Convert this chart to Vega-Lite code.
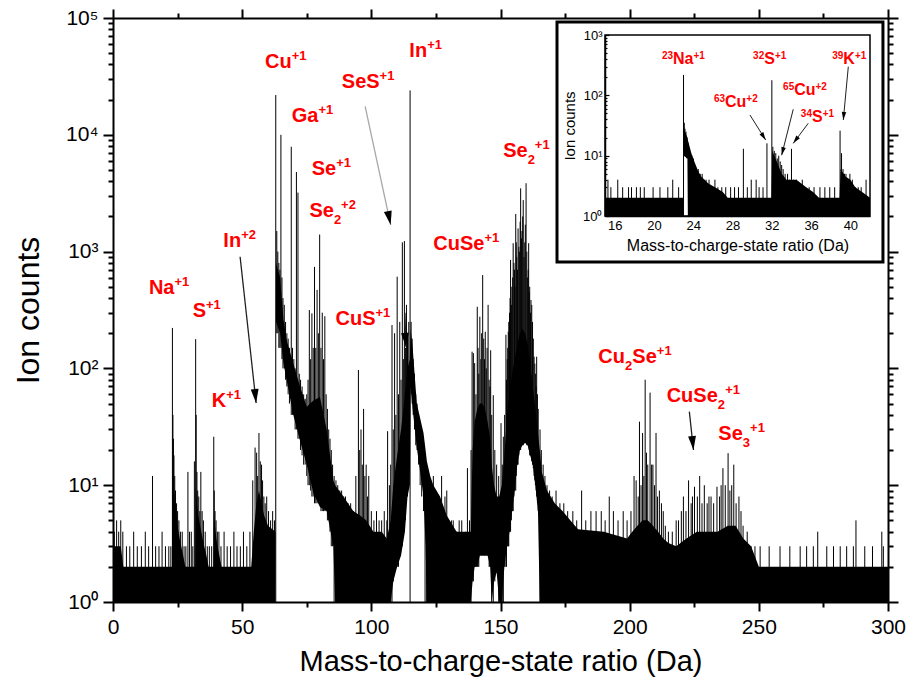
{
"$schema": "https://vega.github.io/schema/vega-lite/v6.json",
"width": 775, "height": 584,
"autosize": {"type": "none"},
"padding": {"left": 113, "top": 18, "right": 19, "bottom": 85},
"background": "white",
"config": {
  "view": {"stroke": null},
  "axis": {"grid": false, "domainColor": "black", "tickColor": "black", "labelColor": "black", "titleColor": "black", "labelFont": "Liberation Sans", "titleFont": "Liberation Sans", "titleFontWeight": "normal", "domainWidth": 2, "tickWidth": 2, "labelFlush": false, "labelOverlap": false, "labelBound": false, "zindex": 1},
  "text": {"font": "Liberation Sans"}
},
"datasets": {
"band": [
{"m":0,"lo":1,"hi":3},{"m":3,"lo":1,"hi":3},{"m":4,"lo":1,"hi":2},{"m":22.9,"lo":1,"hi":2},{"m":23.05,"lo":1,"hi":14},{"m":23.5,"lo":1,"hi":10},{"m":24,"lo":1,"hi":7},{"m":25,"lo":1,"hi":4.5},{"m":26,"lo":1,"hi":3.3},{"m":27,"lo":1,"hi":2.6},{"m":28,"lo":1,"hi":2},{"m":31.9,"lo":1,"hi":2},{"m":32.05,"lo":1,"hi":10},{"m":32.5,"lo":1,"hi":7},{"m":33,"lo":1,"hi":5.5},{"m":34,"lo":1,"hi":4.2},{"m":35,"lo":1,"hi":3.2},{"m":36,"lo":1,"hi":2.6},{"m":37,"lo":1,"hi":2},{"m":38.9,"lo":1,"hi":2},{"m":39.05,"lo":1,"hi":5.5},{"m":40,"lo":1,"hi":3.5},{"m":41,"lo":1,"hi":2.6},{"m":42,"lo":1,"hi":2},{"m":53.5,"lo":1,"hi":2},{"m":54.5,"lo":1,"hi":4},{"m":55.5,"lo":1,"hi":7},{"m":56.5,"lo":1,"hi":9},{"m":57.5,"lo":1,"hi":7},{"m":58.5,"lo":1,"hi":5.5},{"m":60,"lo":1,"hi":4.5},{"m":62.9,"lo":1,"hi":4},
{"m":63.1,"lo":250,"hi":800},{"m":64.7,"lo":200,"hi":600},{"m":66,"lo":110,"hi":260},{"m":67.2,"lo":80,"hi":175},{"m":69.8,"lo":40,"hi":110},{"m":72.4,"lo":24,"hi":70},{"m":75,"lo":15,"hi":47},{"m":77.6,"lo":8.5,"hi":53},{"m":80.1,"lo":6.5,"hi":57},{"m":82.7,"lo":6,"hi":30},{"m":85.3,"lo":3,"hi":11},{"m":86,"lo":1,"hi":10},{"m":89.2,"lo":1,"hi":8},{"m":93,"lo":1,"hi":6},{"m":95.6,"lo":1,"hi":5.5},{"m":98,"lo":1,"hi":5},{"m":100.8,"lo":1,"hi":4},{"m":104,"lo":1,"hi":4},{"m":106,"lo":1,"hi":3.5},{"m":107.5,"lo":1,"hi":5},{"m":108.5,"lo":1.5,"hi":10},{"m":110,"lo":2,"hi":18},{"m":111.5,"lo":2.5,"hi":30},{"m":113,"lo":4,"hi":60},{"m":114,"lo":8,"hi":100},{"m":114.9,"lo":10,"hi":120},{"m":115.2,"lo":70,"hi":220},{"m":116,"lo":45,"hi":150},{"m":117.6,"lo":21,"hi":50},{"m":120.2,"lo":8,"hi":28},{"m":121,"lo":3,"hi":20},{"m":121.5,"lo":1,"hi":16},{"m":122.8,"lo":1,"hi":12},{"m":124,"lo":1,"hi":10},{"m":126.6,"lo":1,"hi":8},{"m":129.2,"lo":1,"hi":5.5},{"m":133,"lo":1,"hi":4},{"m":138.5,"lo":1,"hi":4},
{"m":139.2,"lo":1.5,"hi":20},{"m":140,"lo":2,"hi":35},{"m":141,"lo":2,"hi":45},{"m":142,"lo":2.5,"hi":50},{"m":143,"lo":2.5,"hi":50},{"m":144,"lo":2.5,"hi":45},{"m":145,"lo":2.5,"hi":35},{"m":146,"lo":2,"hi":25},{"m":146.6,"lo":1,"hi":15},{"m":147.5,"lo":1.5,"hi":10},{"m":148.5,"lo":1.8,"hi":8},{"m":149.5,"lo":1,"hi":8},{"m":150.5,"lo":1,"hi":10},{"m":151.5,"lo":2,"hi":18},{"m":152.5,"lo":3,"hi":40},{"m":153.5,"lo":4,"hi":60},{"m":154.5,"lo":6,"hi":90},{"m":155.5,"lo":9,"hi":120},{"m":156.5,"lo":15,"hi":160},{"m":157.5,"lo":20,"hi":200},{"m":158.5,"lo":22,"hi":220},{"m":159.5,"lo":23,"hi":200},{"m":160.5,"lo":22,"hi":160},{"m":161.5,"lo":18,"hi":110},{"m":162.5,"lo":15,"hi":70},{"m":163.5,"lo":10,"hi":45},{"m":164.5,"lo":6,"hi":28},{"m":165.2,"lo":1,"hi":20},{"m":166,"lo":1,"hi":13},{"m":168,"lo":1,"hi":9},{"m":171,"lo":1,"hi":7},{"m":174,"lo":1,"hi":6},{"m":177,"lo":1,"hi":5},{"m":180,"lo":1,"hi":4.2},{"m":190,"lo":1,"hi":4},{"m":199,"lo":1,"hi":3.5},{"m":201,"lo":1,"hi":4},{"m":203,"lo":1,"hi":4.5},{"m":205,"lo":1,"hi":5},{"m":207,"lo":1,"hi":5},{"m":209,"lo":1,"hi":4.5},{"m":211,"lo":1,"hi":4},{"m":213,"lo":1,"hi":3.5},{"m":215,"lo":1,"hi":3.2},{"m":218,"lo":1,"hi":3},{"m":222,"lo":1,"hi":3.5},{"m":226,"lo":1,"hi":4},{"m":230,"lo":1,"hi":4},{"m":234,"lo":1,"hi":4},{"m":238,"lo":1,"hi":4.5},{"m":241,"lo":1,"hi":4.5},{"m":244,"lo":1,"hi":3.5},{"m":247,"lo":1,"hi":3},{"m":250,"lo":1,"hi":2},{"m":300,"lo":1,"hi":2}
],
"spk": [
{"m":0.5,"c":4,"b":1},{"m":1.4,"c":5,"b":1},{"m":2.2,"c":4,"b":1},{"m":3.0,"c":5,"b":1},{"m":3.8,"c":4,"b":1},{"m":5.2,"c":3,"b":1},{"m":6.5,"c":3,"b":1},{"m":8.0,"c":4,"b":1},{"m":9.4,"c":3,"b":1},{"m":11.0,"c":3,"b":1},{"m":12.5,"c":4,"b":1},{"m":13.8,"c":3,"b":1},{"m":15.3,"c":12,"b":1},{"m":16.5,"c":3,"b":1},{"m":17.8,"c":3,"b":1},{"m":19.0,"c":4,"b":1},{"m":20.3,"c":3,"b":1},{"m":21.6,"c":3,"b":1},{"m":22.4,"c":3,"b":1},
{"m":23.0,"c":222,"b":1},{"m":23.2,"c":40,"b":1},{"m":23.4,"c":25,"b":1},{"m":23.6,"c":18,"b":1},{"m":23.9,"c":12,"b":1},{"m":24.2,"c":9,"b":1},{"m":24.6,"c":7,"b":1},{"m":25.0,"c":6,"b":1},{"m":25.5,"c":5,"b":1},{"m":26.1,"c":4,"b":1},{"m":26.8,"c":4,"b":1},{"m":27.5,"c":3,"b":1},{"m":28.2,"c":3,"b":1},{"m":29.0,"c":13,"b":1},{"m":29.6,"c":4,"b":1},{"m":30.3,"c":4,"b":1},{"m":30.9,"c":3,"b":1},{"m":31.5,"c":16,"b":1},{"m":32.0,"c":178,"b":1},{"m":32.2,"c":40,"b":1},{"m":32.5,"c":13,"b":1},{"m":32.8,"c":9,"b":1},{"m":33.2,"c":8,"b":1},{"m":33.6,"c":6,"b":1},{"m":34.0,"c":13,"b":1},{"m":34.5,"c":6,"b":1},{"m":35.0,"c":5,"b":1},{"m":35.7,"c":4,"b":1},{"m":36.5,"c":3,"b":1},{"m":37.3,"c":3,"b":1},{"m":38.2,"c":3,"b":1},{"m":39.0,"c":26,"b":1},{"m":39.2,"c":9,"b":1},{"m":39.5,"c":6,"b":1},{"m":39.9,"c":5,"b":1},{"m":40.4,"c":4,"b":1},{"m":41.0,"c":4,"b":1},{"m":41.8,"c":3,"b":1},{"m":43.0,"c":4,"b":1},{"m":44.2,"c":3,"b":1},{"m":45.5,"c":3,"b":1},{"m":46.8,"c":4,"b":1},{"m":48.0,"c":3,"b":1},{"m":49.3,"c":3,"b":1},{"m":50.5,"c":4,"b":1},{"m":51.8,"c":3,"b":1},{"m":53.0,"c":4,"b":1},{"m":54.1,"c":11,"b":1},{"m":55.0,"c":21,"b":1},{"m":55.6,"c":19,"b":1},{"m":56.0,"c":12,"b":1},{"m":56.5,"c":28,"b":1},{"m":57.0,"c":16,"b":1},{"m":57.5,"c":15,"b":1},{"m":57.9,"c":11,"b":1},{"m":58.4,"c":8,"b":1},{"m":58.9,"c":7,"b":1},{"m":59.5,"c":8,"b":1},{"m":60.2,"c":6,"b":1},{"m":61.0,"c":5,"b":1},{"m":61.8,"c":6,"b":1},{"m":62.5,"c":5,"b":1},
{"m":63.0,"c":21900,"b":1},{"m":63.4,"c":1500,"b":200},{"m":63.8,"c":1000,"b":200},{"m":64.2,"c":800,"b":150},{"m":64.6,"c":700,"b":150},{"m":65.0,"c":10000,"b":150},{"m":65.4,"c":600,"b":120},{"m":65.8,"c":400,"b":100},{"m":66.3,"c":350,"b":100},{"m":66.8,"c":250,"b":80},{"m":67.3,"c":200,"b":70},{"m":67.8,"c":180,"b":60},{"m":68.3,"c":150,"b":50},{"m":69.0,"c":7900,"b":40},{"m":69.5,"c":150,"b":40},{"m":70.0,"c":120,"b":40},{"m":70.5,"c":100,"b":30},{"m":71.0,"c":4800,"b":30},{"m":71.6,"c":3200,"b":25},{"m":72.1,"c":90,"b":25},{"m":72.6,"c":80,"b":20},{"m":73.2,"c":70,"b":18},{"m":73.8,"c":60,"b":15},{"m":74.4,"c":55,"b":15},{"m":75.0,"c":60,"b":12},{"m":75.5,"c":80,"b":10},{"m":76.0,"c":316,"b":10},{"m":76.5,"c":120,"b":9},{"m":77.0,"c":296,"b":8},{"m":77.5,"c":150,"b":8},{"m":78.0,"c":740,"b":7},{"m":78.5,"c":150,"b":7},{"m":79.0,"c":470,"b":7},{"m":79.5,"c":200,"b":7},{"m":80.0,"c":1400,"b":7},{"m":80.5,"c":150,"b":6},{"m":81.0,"c":300,"b":6},{"m":81.5,"c":120,"b":6},{"m":82.0,"c":280,"b":6},{"m":82.5,"c":60,"b":6},{"m":83.0,"c":45,"b":5},{"m":83.5,"c":30,"b":5},{"m":84.0,"c":25,"b":4},{"m":84.5,"c":20,"b":3},{"m":85.0,"c":15,"b":3},{"m":85.6,"c":12,"b":1},{"m":86.3,"c":11,"b":1},{"m":87.0,"c":10,"b":1},{"m":87.8,"c":9,"b":1},{"m":88.5,"c":9,"b":1},{"m":89.3,"c":8,"b":1},{"m":90.0,"c":8,"b":1},{"m":91.0,"c":7,"b":1},{"m":92.0,"c":7,"b":1},{"m":93.0,"c":6,"b":1},{"m":94.0,"c":12,"b":1},{"m":95.0,"c":97,"b":1},{"m":95.5,"c":20,"b":1},{"m":96.0,"c":30,"b":1},{"m":96.5,"c":15,"b":1},{"m":97.0,"c":45,"b":1},{"m":97.5,"c":12,"b":1},{"m":98.0,"c":15,"b":1},{"m":98.5,"c":8,"b":1},{"m":99.0,"c":12,"b":1},{"m":100.0,"c":6,"b":1},{"m":101.0,"c":5,"b":1},{"m":102.0,"c":6,"b":1},{"m":103.0,"c":5,"b":1},{"m":104.0,"c":5,"b":1},{"m":105.0,"c":6,"b":1},{"m":106.0,"c":5,"b":1},{"m":106.3,"c":29,"b":1},{"m":107.0,"c":10,"b":1},{"m":107.5,"c":15,"b":1},{"m":108.0,"c":235,"b":1},{"m":108.5,"c":30,"b":1.5},{"m":109.0,"c":200,"b":2},{"m":109.5,"c":40,"b":2},{"m":110.0,"c":610,"b":2},{"m":110.5,"c":60,"b":2},{"m":111.0,"c":250,"b":2.5},{"m":111.5,"c":80,"b":3},{"m":112.0,"c":1200,"b":3},{"m":112.4,"c":120,"b":4},{"m":112.8,"c":1230,"b":4},{"m":113.2,"c":150,"b":5},{"m":113.6,"c":350,"b":8},{"m":114.0,"c":200,"b":8},{"m":114.5,"c":250,"b":10},{"m":115.0,"c":24000,"b":1},{"m":115.4,"c":250,"b":60},{"m":115.8,"c":180,"b":50},{"m":116.2,"c":120,"b":40},{"m":116.7,"c":90,"b":30},{"m":117.2,"c":60,"b":22},{"m":117.7,"c":50,"b":20},{"m":118.3,"c":40,"b":15},{"m":118.9,"c":30,"b":10},{"m":119.5,"c":25,"b":8},{"m":120.2,"c":20,"b":6},{"m":120.8,"c":15,"b":1},{"m":121.4,"c":12,"b":1},{"m":122.0,"c":12,"b":1},{"m":122.8,"c":10,"b":1},{"m":123.5,"c":9,"b":1},{"m":124.0,"c":12,"b":1},{"m":125.0,"c":8,"b":1},{"m":126.0,"c":7,"b":1},{"m":127.2,"c":12,"b":1},{"m":128.0,"c":6,"b":1},{"m":128.5,"c":8,"b":1},{"m":129.2,"c":9,"b":1},{"m":130.0,"c":5,"b":1},{"m":131.0,"c":5,"b":1},{"m":131.7,"c":5,"b":1},{"m":133.0,"c":4,"b":1},{"m":134.0,"c":5,"b":1},{"m":135.0,"c":5,"b":1},{"m":136.5,"c":4,"b":1},{"m":137.2,"c":14,"b":1},{"m":138.0,"c":5,"b":1},
{"m":138.6,"c":20,"b":1},{"m":139.0,"c":139,"b":1.5},{"m":139.5,"c":135,"b":1.5},{"m":140.0,"c":111,"b":2},{"m":140.5,"c":60,"b":2},{"m":141.0,"c":337,"b":2},{"m":141.3,"c":150,"b":2},{"m":141.6,"c":90,"b":2},{"m":142.0,"c":277,"b":2.5},{"m":142.4,"c":120,"b":2.5},{"m":142.7,"c":200,"b":2.5},{"m":143.1,"c":630,"b":2.5},{"m":143.5,"c":180,"b":2.5},{"m":143.8,"c":120,"b":2.5},{"m":144.1,"c":206,"b":2.5},{"m":144.5,"c":100,"b":2.5},{"m":144.8,"c":150,"b":2.5},{"m":145.2,"c":350,"b":2.5},{"m":145.6,"c":80,"b":2},{"m":145.9,"c":70,"b":2},{"m":146.2,"c":143,"b":2},{"m":146.6,"c":40,"b":1},{"m":147.2,"c":59,"b":1},{"m":147.8,"c":20,"b":1.5},{"m":148.5,"c":15,"b":1.8},{"m":149.3,"c":12,"b":1},{"m":150.2,"c":34,"b":1},{"m":150.7,"c":15,"b":1},{"m":151.1,"c":26,"b":1},{"m":151.6,"c":40,"b":2},{"m":152.1,"c":194,"b":2},
{"m":152.3,"c":80,"b":2},{"m":152.6,"c":120,"b":3},{"m":152.8,"c":150,"b":3},{"m":153.0,"c":206,"b":3},{"m":153.2,"c":250,"b":3},{"m":153.5,"c":300,"b":4},{"m":153.7,"c":400,"b":4},{"m":153.9,"c":850,"b":4},{"m":154.2,"c":350,"b":5},{"m":154.4,"c":500,"b":6},{"m":154.7,"c":600,"b":6},{"m":154.9,"c":1180,"b":6},{"m":155.2,"c":800,"b":8},{"m":155.4,"c":700,"b":9},{"m":155.6,"c":500,"b":9},{"m":155.9,"c":2100,"b":9},{"m":156.1,"c":1200,"b":12},{"m":156.3,"c":900,"b":15},{"m":156.6,"c":700,"b":15},{"m":156.8,"c":1580,"b":15},{"m":157.1,"c":1100,"b":18},{"m":157.3,"c":1000,"b":20},{"m":157.6,"c":1800,"b":20},{"m":157.8,"c":3480,"b":20},{"m":158.1,"c":1300,"b":22},{"m":158.3,"c":1500,"b":22},{"m":158.6,"c":2000,"b":22},{"m":158.8,"c":2760,"b":22},{"m":159.1,"c":900,"b":23},{"m":159.4,"c":1200,"b":23},{"m":159.6,"c":1700,"b":23},{"m":159.9,"c":3850,"b":23},{"m":160.2,"c":1000,"b":22},{"m":160.4,"c":600,"b":22},{"m":160.7,"c":700,"b":22},{"m":160.9,"c":1180,"b":22},{"m":161.1,"c":450,"b":20},{"m":161.3,"c":500,"b":18},{"m":161.6,"c":300,"b":18},{"m":161.8,"c":385,"b":18},{"m":162.1,"c":350,"b":16},{"m":162.4,"c":250,"b":15},{"m":162.7,"c":180,"b":14},{"m":163.0,"c":126,"b":12},{"m":163.3,"c":110,"b":11},{"m":163.5,"c":90,"b":10},{"m":163.8,"c":70,"b":9},{"m":164.0,"c":126,"b":8},{"m":164.3,"c":60,"b":7},{"m":164.6,"c":45,"b":6},{"m":165.3,"c":30,"b":1},{"m":165.8,"c":20,"b":1},{"m":166.5,"c":15,"b":1},{"m":167.2,"c":12,"b":1},{"m":168.0,"c":10,"b":1},{"m":169.0,"c":9,"b":1},{"m":170.0,"c":8,"b":1},{"m":171.5,"c":9,"b":1},{"m":173.0,"c":7,"b":1},{"m":174.5,"c":7,"b":1},{"m":176.0,"c":6,"b":1},{"m":178.0,"c":6,"b":1},{"m":179.5,"c":5,"b":1},{"m":181.4,"c":9,"b":1},{"m":183.0,"c":5,"b":1},{"m":185.0,"c":6,"b":1},{"m":187.0,"c":6,"b":1},{"m":189.0,"c":6,"b":1},{"m":190.5,"c":5,"b":1},{"m":192.1,"c":8,"b":1},{"m":193.7,"c":6,"b":1},{"m":195.5,"c":5,"b":1},{"m":197.5,"c":6,"b":1},{"m":199.0,"c":5,"b":1},
{"m":200.5,"c":6,"b":1},{"m":201.7,"c":12,"b":1},{"m":202.5,"c":11,"b":1},{"m":203.3,"c":8,"b":1},{"m":203.8,"c":35,"b":1},{"m":204.4,"c":10,"b":1},{"m":205.0,"c":28,"b":1},{"m":205.5,"c":12,"b":1},{"m":206.0,"c":80,"b":1},{"m":206.5,"c":19,"b":1},{"m":207.0,"c":15,"b":1},{"m":207.9,"c":62,"b":1},{"m":208.5,"c":15,"b":1},{"m":209.0,"c":15,"b":1},{"m":209.6,"c":10,"b":1},{"m":210.2,"c":28,"b":1},{"m":210.8,"c":8,"b":1},{"m":211.5,"c":9,"b":1},{"m":212.3,"c":7,"b":1},{"m":213.0,"c":6,"b":1},{"m":213.8,"c":4.5,"b":1},{"m":215.0,"c":4,"b":1},{"m":216.5,"c":4,"b":1},{"m":218.0,"c":5,"b":1},{"m":218.9,"c":5,"b":1},{"m":220.0,"c":6,"b":1},{"m":220.8,"c":8,"b":1},{"m":221.8,"c":6,"b":1},{"m":222.8,"c":11,"b":1},{"m":223.8,"c":7,"b":1},{"m":224.3,"c":8,"b":1},{"m":225.1,"c":9.7,"b":1},{"m":226.2,"c":8,"b":1},{"m":227.1,"c":12,"b":1},{"m":228.0,"c":7,"b":1},{"m":228.9,"c":10,"b":1},{"m":230.0,"c":7,"b":1},{"m":230.7,"c":8,"b":1},{"m":231.5,"c":8,"b":1},{"m":232.5,"c":7,"b":1},{"m":233.8,"c":9.7,"b":1},{"m":234.8,"c":8,"b":1},{"m":235.4,"c":10,"b":1},{"m":236.1,"c":14,"b":1},{"m":237.0,"c":10,"b":1},{"m":238.1,"c":18.8,"b":1},{"m":238.8,"c":9,"b":1},{"m":239.5,"c":10,"b":1},{"m":240.3,"c":15,"b":1},{"m":241.2,"c":7,"b":1},{"m":242.3,"c":8,"b":1},{"m":243.1,"c":6,"b":1},{"m":243.9,"c":4.5,"b":1},{"m":245.5,"c":4,"b":1},{"m":247.0,"c":3,"b":1},{"m":248.5,"c":3,"b":1},{"m":250.5,"c":3,"b":1},{"m":254.0,"c":3,"b":1},{"m":258.2,"c":3,"b":1},{"m":262.0,"c":3,"b":1},{"m":266.0,"c":3,"b":1},{"m":268.5,"c":3,"b":1},{"m":271.1,"c":3,"b":1},{"m":272.8,"c":4,"b":1},{"m":276.3,"c":3,"b":1},{"m":278.9,"c":3,"b":1},{"m":281.5,"c":3,"b":1},{"m":284.0,"c":3,"b":1},{"m":286.6,"c":3,"b":1},{"m":287.6,"c":5,"b":1},{"m":291.0,"c":3,"b":1},{"m":294.0,"c":3,"b":1},{"m":297.6,"c":4,"b":1},{"m":298.2,"c":3,"b":1}
],
"lab": [
{"t":"Na","s":"","p":"+1","j":23.8,"k":23.8,"c":433},
{"t":"S","s":"","p":"+1","j":36.0,"k":36.0,"c":277},
{"t":"K","s":"","p":"+1","j":43.8,"k":43.8,"c":47},
{"t":"In","s":"","p":"+2","j":49.6,"k":49.6,"c":1090},
{"t":"Cu","s":"","p":"+1","j":69.2,"k":69.2,"c":37100},
{"t":"Ga","s":"","p":"+1","j":79.5,"k":79.5,"c":12950},
{"t":"SeS","s":"","p":"+1","j":103.2,"k":103.2,"c":25000},
{"t":"In","s":"","p":"+1","j":121.6,"k":121.6,"c":46600},
{"t":"Se","s":"","p":"+1","j":86.4,"k":86.4,"c":4530},
{"t":"Se","s":"2","p":"+2","j":85.5,"k":88.3,"c":1990},
{"t":"Se","s":"2","p":"+1","j":160.5,"k":163.3,"c":6500},
{"t":"CuSe","s":"","p":"+1","j":143.8,"k":143.8,"c":1030},
{"t":"CuS","s":"","p":"+1","j":101.6,"k":101.6,"c":235},
{"t":"Cu","s":"2","p":"","j":198.2,"k":198.2,"c":111},
{"t":"Se","s":"","p":"+1","j":210.5,"k":210.5,"c":111},
{"t":"CuSe","s":"2","p":"+1","j":234.1,"k":237.0,"c":51.9},
{"t":"Se","s":"3","p":"+1","j":243.8,"k":246.6,"c":24.4}
],
"arr": [
{"id":"In2","m":49.2,"c":904,"m2":55.4,"c2":50.6},{"id":"SeS","m":97.6,"c":17500,"m2":107.5,"c2":1690},{"id":"In113","m":113.0,"c":300,"m2":113.4,"c2":153},{"id":"CuSe2","m":223.1,"c":42.6,"m2":224.7,"c2":20}
],
"iband": [
{"m":15,"lo":1,"hi":2},{"m":22.95,"lo":1,"hi":2},{"m":23.02,"lo":10,"hi":28},{"m":23.4,"lo":9,"hi":20},{"m":23.45,"lo":1,"hi":18},{"m":23.8,"lo":1,"hi":11},{"m":24.1,"lo":1,"hi":8},{"m":24.5,"lo":1,"hi":5.5},{"m":24.8,"lo":1,"hi":4.5},{"m":25.5,"lo":1,"hi":3.5},{"m":26.2,"lo":1,"hi":3},{"m":27,"lo":1,"hi":2.5},{"m":27.5,"lo":1,"hi":2},{"m":31.95,"lo":1,"hi":2},{"m":32.05,"lo":1,"hi":12},{"m":32.5,"lo":1,"hi":8},{"m":33,"lo":1,"hi":5},{"m":33.5,"lo":1,"hi":4},{"m":34.5,"lo":1,"hi":4},{"m":35.5,"lo":1,"hi":3},{"m":36.2,"lo":1,"hi":2.5},{"m":36.8,"lo":1,"hi":2},{"m":38.9,"lo":1,"hi":2},{"m":39.0,"lo":1,"hi":6},{"m":39.5,"lo":1,"hi":4.5},{"m":40,"lo":1,"hi":4},{"m":40.5,"lo":1,"hi":3},{"m":41.2,"lo":1,"hi":2.5},{"m":42,"lo":1,"hi":2}
],
"ispk": [
{"m":15.3,"c":4,"b":1},{"m":15.6,"c":3,"b":1},{"m":16.3,"c":4,"b":1},{"m":16.8,"c":3,"b":1},{"m":17.4,"c":3,"b":1},{"m":17.7,"c":3,"b":1},{"m":18.2,"c":3,"b":1},{"m":18.6,"c":3,"b":1},{"m":19.0,"c":3,"b":1},{"m":19.9,"c":3,"b":1},{"m":20.6,"c":3,"b":1},{"m":21.4,"c":3,"b":1},{"m":21.9,"c":4,"b":1},{"m":22.5,"c":3,"b":1},
{"m":23.0,"c":218,"b":1},{"m":23.08,"c":35,"b":10},{"m":23.15,"c":28,"b":10},{"m":23.25,"c":25,"b":10},{"m":23.35,"c":20,"b":9},{"m":23.5,"c":16,"b":1},{"m":23.6,"c":13,"b":1},{"m":23.7,"c":11,"b":1},{"m":23.85,"c":10,"b":1},{"m":24.0,"c":9,"b":1},{"m":24.15,"c":7,"b":1},{"m":24.3,"c":6,"b":1},{"m":24.5,"c":6,"b":1},{"m":24.7,"c":5,"b":1},{"m":24.9,"c":5,"b":1},{"m":25.1,"c":4,"b":1},{"m":25.3,"c":4,"b":1},{"m":25.6,"c":4,"b":1},{"m":25.9,"c":3,"b":1},{"m":26.2,"c":4,"b":1},{"m":26.5,"c":3,"b":1},{"m":26.9,"c":3,"b":1},{"m":27.3,"c":3,"b":1},{"m":27.8,"c":3,"b":1},{"m":28.2,"c":3,"b":1},{"m":28.6,"c":3,"b":1},{"m":29.1,"c":13,"b":1},{"m":29.5,"c":3,"b":1},{"m":29.9,"c":4,"b":1},{"m":30.4,"c":4,"b":1},{"m":30.7,"c":3,"b":1},{"m":31.1,"c":3,"b":1},{"m":31.5,"c":16,"b":1},{"m":32.0,"c":178,"b":1},{"m":32.1,"c":14,"b":1},{"m":32.25,"c":12,"b":1},{"m":32.4,"c":11,"b":1},{"m":32.55,"c":9,"b":1},{"m":32.7,"c":10,"b":1},{"m":32.85,"c":8,"b":1},{"m":33.0,"c":7,"b":1},{"m":33.15,"c":6,"b":1},{"m":33.35,"c":5,"b":1},{"m":33.6,"c":5,"b":1},{"m":33.8,"c":4,"b":1},{"m":34.0,"c":13,"b":1},{"m":34.2,"c":4,"b":1},{"m":34.5,"c":4,"b":1},{"m":34.8,"c":3,"b":1},{"m":35.1,"c":4,"b":1},{"m":35.4,"c":3,"b":1},{"m":35.8,"c":3,"b":1},{"m":36.3,"c":3,"b":1},{"m":36.9,"c":3,"b":1},{"m":37.4,"c":3,"b":1},{"m":37.9,"c":3,"b":1},{"m":38.4,"c":3,"b":1},
{"m":38.95,"c":26,"b":1},{"m":39.1,"c":11,"b":1},{"m":39.25,"c":6,"b":1},{"m":39.4,"c":5,"b":1},{"m":39.55,"c":5,"b":1},{"m":39.75,"c":4,"b":1},{"m":39.95,"c":5,"b":1},{"m":40.2,"c":4,"b":1},{"m":40.5,"c":3,"b":1},{"m":40.8,"c":3,"b":1},{"m":41.1,"c":3,"b":1},{"m":41.6,"c":4,"b":1}
],
"ilab": [
{"q":"23","t":"Na","p":"+1","i":21.93,"j":24.01,"c":331},
{"q":"32","t":"S","p":"+1","i":31.22,"j":32.31,"c":331},
{"q":"39","t":"K","p":"+1","i":39.28,"j":40.46,"c":331},
{"q":"63","t":"Cu","p":"+2","i":27.23,"j":29.4,"c":63.4},
{"q":"65","t":"Cu","p":"+2","i":34.28,"j":36.45,"c":101},
{"q":"34","t":"S","p":"+1","i":36.09,"j":37.18,"c":36.6}
],
"iarr": [
{"id":"c63","m":29.77,"c":47.2,"m2":31.37,"c2":18.2},{"id":"c65","m":34.18,"c":58.7,"m2":33.0,"c2":10.2},{"id":"s34","m":35.71,"c":34.4,"m2":34.18,"c2":16},{"id":"k39","m":39.79,"c":298,"m2":39.28,"c2":39}
]
},
"layer": [
{
 "layer": [
  {"data": {"name": "band"},
   "mark": {"type": "area", "color": "black", "opacity": 1, "interpolate": "linear"},
   "encoding": {
    "x": {"field": "m", "type": "quantitative", "title": "Mass-to-charge-state ratio (Da)",
      "scale": {"domain": [0, 300], "nice": false, "zero": false},
      "axis": {"orient": "bottom", "values": [0,25,50,75,100,125,150,175,200,225,250,275,300],
        "labelExpr": "datum.value % 50 === 0 ? datum.label : ''",
        "tickSize": {"condition": {"test": "datum.value % 50 !== 0", "value": 5}, "value": 9},
        "labelFontSize": 21, "titleFontSize": 29, "labelPadding": 5, "titlePadding": 10}},
    "y": {"field": "hi", "type": "quantitative", "title": "Ion counts",
      "scale": {"type": "log", "domain": [1, 100000], "nice": false},
      "axis": {"orient": "left", "values": [1,2,3,4,5,6,7,8,9,10,20,30,40,50,60,70,80,90,100,200,300,400,500,600,700,800,900,1000,2000,3000,4000,5000,6000,7000,8000,9000,10000,20000,30000,40000,50000,60000,70000,80000,90000,100000],
        "labelExpr": "abs(log(datum.value)/LN10 - round(log(datum.value)/LN10)) < 0.001 ? '10' + ['⁰','¹','²','³','⁴','⁵'][round(log(datum.value)/LN10)] : ''",
        "tickSize": {"condition": {"test": "abs(log(datum.value)/LN10 - round(log(datum.value)/LN10)) > 0.001", "value": 5}, "value": 10},
        "labelFontSize": 21, "titleFontSize": 32, "labelPadding": 5, "titlePadding": 20}},
    "y2": {"field": "lo"}
   }},
  {"data": {"name": "spk"},
   "mark": {"type": "rule", "color": "black", "strokeWidth": 1},
   "encoding": {"x": {"field": "m", "type": "quantitative"}, "y": {"field": "c", "type": "quantitative"}, "y2": {"field": "b"}}},
  {"data": {"name": "arr"},
   "mark": {"type": "rule", "strokeWidth": 1.3},
   "encoding": {"x": {"field": "m", "type": "quantitative"}, "y": {"field": "c", "type": "quantitative"}, "x2": {"field": "m2"}, "y2": {"field": "c2"},
     "color": {"condition": {"test": "datum.id === 'SeS'", "value": "#a8a8a8"}, "value": "#202020"}}},
  {"data": {"name": "arr"},
   "mark": {"type": "point", "shape": "M-0.45,-1.6L0.45,-1.6L0,0Z", "filled": true, "size": 306, "opacity": 1, "color": "black", "strokeWidth": 0},
   "encoding": {"x": {"field": "m2", "type": "quantitative"}, "y": {"field": "c2", "type": "quantitative"},
     "angle": {"condition": [{"test": "datum.id === 'SeS'", "value": -12}, {"test": "datum.id === 'In113'", "value": -4}], "value": -6}}},
  {"data": {"name": "lab"},
   "mark": {"type": "text", "fontWeight": "bold", "fontSize": 20, "color": "#ff0000", "align": "right", "baseline": "alphabetic", "font": "Liberation Sans"},
   "encoding": {"x": {"field": "j", "type": "quantitative"}, "y": {"field": "c", "type": "quantitative"}, "text": {"field": "t"}}},
  {"data": {"name": "lab"},
   "mark": {"type": "text", "fontWeight": "bold", "fontSize": 13, "color": "#ff0000", "align": "left", "baseline": "alphabetic", "dy": 7, "font": "Liberation Sans"},
   "encoding": {"x": {"field": "j", "type": "quantitative"}, "y": {"field": "c", "type": "quantitative"}, "text": {"field": "s"}}},
  {"data": {"name": "lab"},
   "mark": {"type": "text", "fontWeight": "bold", "fontSize": 13, "color": "#ff0000", "align": "left", "baseline": "alphabetic", "dy": -8, "font": "Liberation Sans"},
   "encoding": {"x": {"field": "k", "type": "quantitative"}, "y": {"field": "c", "type": "quantitative"}, "text": {"field": "p"}}}
 ]
},
{
 "data": {"name": "lab"},
 "mark": {"type": "point", "opacity": 0},
 "encoding": {
  "x": {"field": "j", "type": "quantitative", "title": null,
    "scale": {"domain": [0, 300], "nice": false, "zero": false},
    "axis": {"orient": "top", "values": [0,25,50,75,100,125,150,175,200,225,250,275,300], "labels": false, "title": null,
      "tickSize": {"condition": {"test": "datum.value % 50 !== 0", "value": 5}, "value": 9}}},
  "y": {"field": "c", "type": "quantitative", "title": null,
    "scale": {"type": "log", "domain": [1, 100000], "nice": false},
    "axis": {"orient": "right", "values": [1,2,3,4,5,6,7,8,9,10,20,30,40,50,60,70,80,90,100,200,300,400,500,600,700,800,900,1000,2000,3000,4000,5000,6000,7000,8000,9000,10000,20000,30000,40000,50000,60000,70000,80000,90000,100000], "labels": false, "title": null,
      "tickSize": {"condition": {"test": "abs(log(datum.value)/LN10 - round(log(datum.value)/LN10)) > 0.001", "value": 5}, "value": 10}}}
 }
},
{
 "layer": [
  {"data": {"values": [{}]},
   "mark": {"type": "rect", "fillOpacity": 0, "stroke": "black", "strokeWidth": 3},
   "encoding": {"x": {"datum": 10.11, "type": "quantitative"}, "x2": {"datum": 43.32}, "y": {"datum": 0.1728, "type": "quantitative"}, "y2": {"datum": 1643}}},
  {"data": {"values": [{}]},
   "mark": {"type": "rect", "fillOpacity": 0, "stroke": "black", "strokeWidth": 1.5},
   "encoding": {"x": {"datum": 15, "type": "quantitative"}, "x2": {"datum": 42}, "y": {"datum": 1, "type": "quantitative"}, "y2": {"datum": 1000}}},
  {"data": {"name": "iband"},
   "mark": {"type": "area", "color": "black", "opacity": 1},
   "encoding": {
    "x": {"field": "m", "type": "quantitative", "title": "Mass-to-charge-state ratio (Da)",
      "scale": {"domain": [15, 42], "range": [492, 757], "nice": false, "zero": false},
      "axis": {"orient": "bottom", "offset": -386, "zindex": 3, "values": [16,20,24,28,32,36,40], "tickSize": -4, "labelPadding": 7, "labelFontSize": 13, "titleFontSize": 16, "titlePadding": 5, "domainWidth": 1.5, "tickWidth": 1.2}},
    "y": {"field": "hi", "type": "quantitative", "title": "Ion counts",
      "scale": {"type": "log", "domain": [1, 1000], "range": [198, 17], "nice": false},
      "axis": {"orient": "left", "offset": -492, "zindex": 3, "values": [1,2,3,4,5,6,7,8,9,10,20,30,40,50,60,70,80,90,100,200,300,400,500,600,700,800,900,1000],
        "labelExpr": "abs(log(datum.value)/LN10 - round(log(datum.value)/LN10)) < 0.001 ? '10' + ['⁰','¹','²','³'][round(log(datum.value)/LN10)] : ''",
        "tickSize": {"condition": {"test": "abs(log(datum.value)/LN10 - round(log(datum.value)/LN10)) > 0.001", "value": -2}, "value": -4},
        "labelPadding": 7, "labelFontSize": 13, "titleFontSize": 15, "titlePadding": 5, "domainWidth": 1.5, "tickWidth": 1.2}},
    "y2": {"field": "lo"}
   }},
  {"data": {"name": "ispk"},
   "mark": {"type": "rule", "color": "black", "strokeWidth": 1},
   "encoding": {"x": {"field": "m", "type": "quantitative"}, "y": {"field": "c", "type": "quantitative"}, "y2": {"field": "b"}}},
  {"data": {"name": "iarr"},
   "mark": {"type": "rule", "strokeWidth": 1, "color": "#202020"},
   "encoding": {"x": {"field": "m", "type": "quantitative"}, "y": {"field": "c", "type": "quantitative"}, "x2": {"field": "m2"}, "y2": {"field": "c2"}}},
  {"data": {"name": "iarr"},
   "mark": {"type": "point", "shape": "M-0.45,-1.6L0.45,-1.6L0,0Z", "filled": true, "size": 100, "opacity": 1, "color": "black", "strokeWidth": 0},
   "encoding": {"x": {"field": "m2", "type": "quantitative"}, "y": {"field": "c2", "type": "quantitative"},
     "angle": {"condition": [{"test": "datum.id === 'c63'", "value": -32}, {"test": "datum.id === 'c65'", "value": 14}, {"test": "datum.id === 's34'", "value": 37}], "value": 5}}},
  {"data": {"name": "ilab"},
   "mark": {"type": "text", "fontWeight": "bold", "fontSize": 10, "color": "#ff0000", "align": "right", "baseline": "alphabetic", "dy": -5, "font": "Liberation Sans"},
   "encoding": {"x": {"field": "i", "type": "quantitative"}, "y": {"field": "c", "type": "quantitative"}, "text": {"field": "q"}}},
  {"data": {"name": "ilab"},
   "mark": {"type": "text", "fontWeight": "bold", "fontSize": 16, "color": "#ff0000", "align": "left", "baseline": "alphabetic", "font": "Liberation Sans"},
   "encoding": {"x": {"field": "i", "type": "quantitative"}, "y": {"field": "c", "type": "quantitative"}, "text": {"field": "t"}}},
  {"data": {"name": "ilab"},
   "mark": {"type": "text", "fontWeight": "bold", "fontSize": 10, "color": "#ff0000", "align": "left", "baseline": "alphabetic", "dy": -5, "font": "Liberation Sans"},
   "encoding": {"x": {"field": "j", "type": "quantitative"}, "y": {"field": "c", "type": "quantitative"}, "text": {"field": "p"}}}
 ]
}
],
"resolve": {"scale": {"x": "independent", "y": "independent"}}
}
